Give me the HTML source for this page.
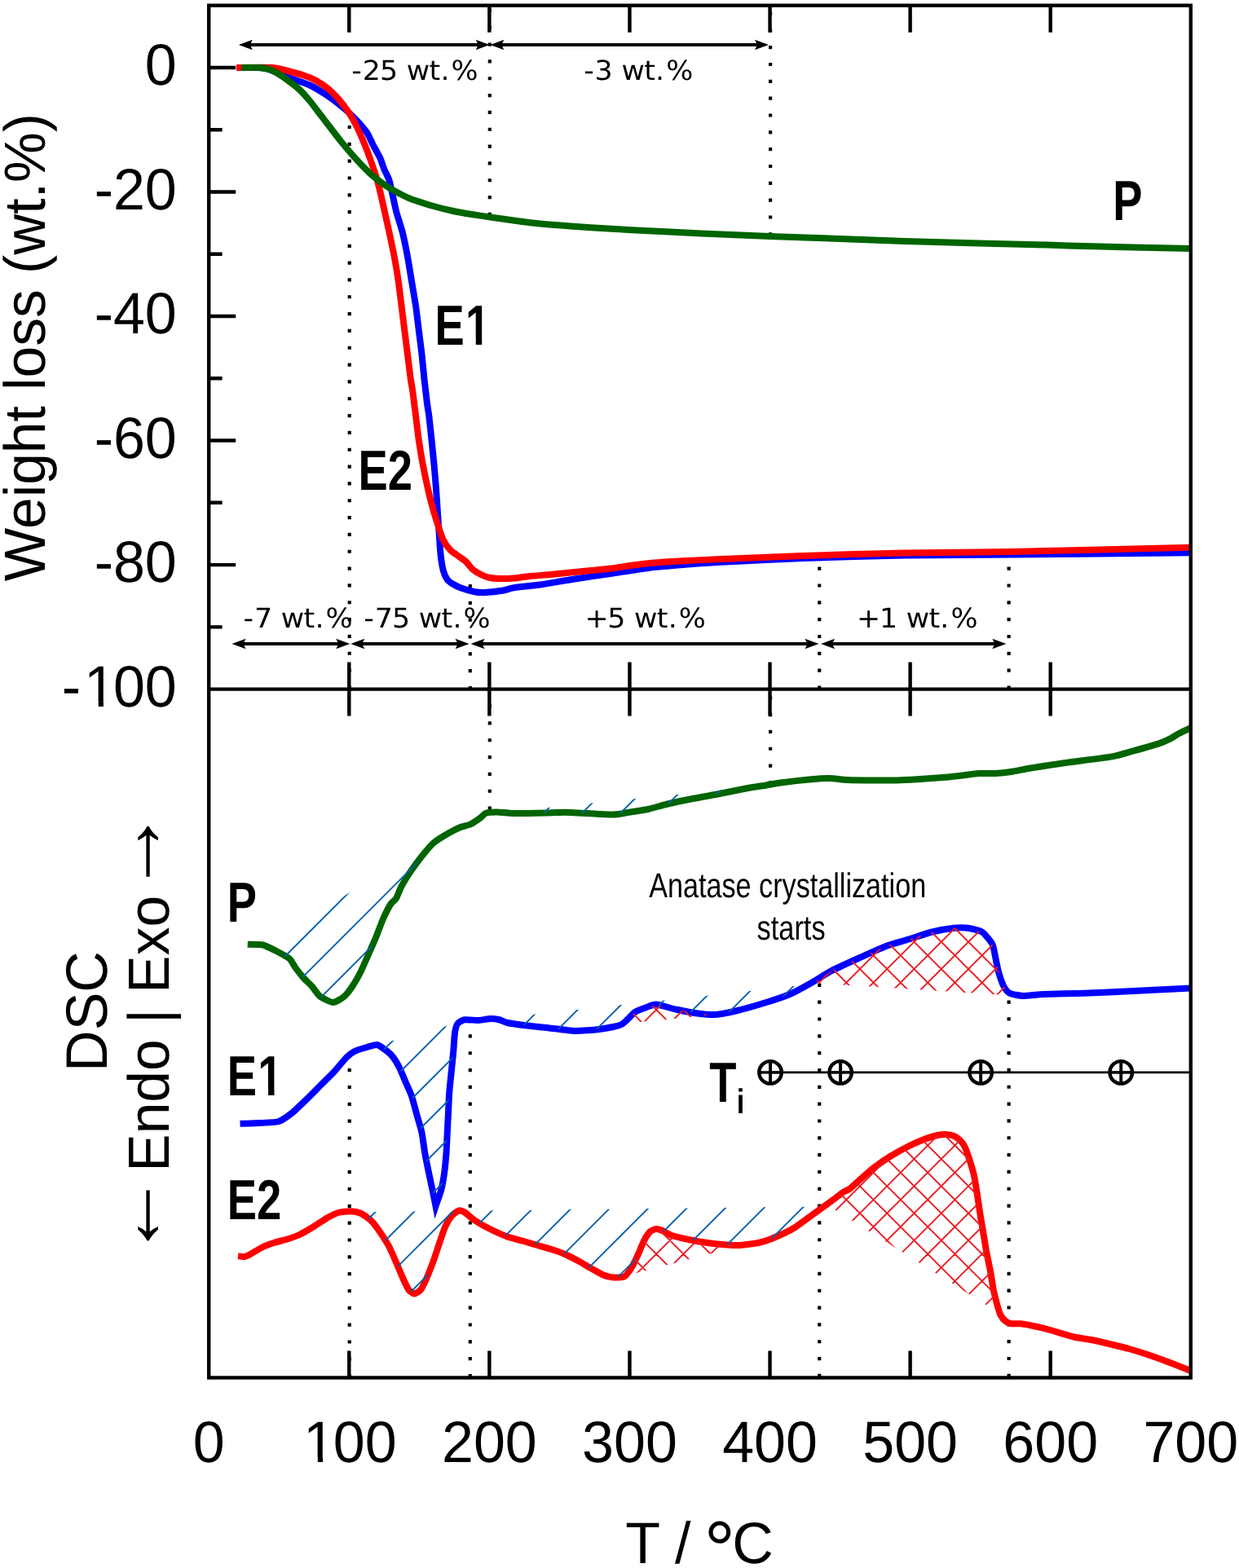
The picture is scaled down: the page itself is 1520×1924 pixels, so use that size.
<!DOCTYPE html>
<html lang="en"><head><meta charset="utf-8"><title>TGA / DSC curves</title>
<style>html,body{margin:0;padding:0;background:#fff}svg{display:block}text{font-family:"Liberation Sans",sans-serif;fill:#000;text-rendering:geometricPrecision}.dv{font-family:"DejaVu Sans","Liberation Sans",sans-serif}.b{font-weight:bold}</style></head><body>
<svg width="1520" height="1924" viewBox="0 0 1520 1924">
<rect width="1520" height="1924" fill="#fff"/>
<defs>
<clipPath id="c_p1"><path d="M320.00 1158.30L322.50 1159.50L337.50 1166.25L355.00 1176.25L362.50 1187.50L372.50 1200.00L382.50 1210.00L392.50 1222.50L408.75 1230.00L422.50 1222.50L432.50 1210.00L442.50 1192.50L452.50 1170.00L461.25 1150.00L470.00 1127.50L479.50 1109.00L486.00 1102.50L492.50 1087.50L505.00 1067.50L520.00 1047.50L532.50 1033.75L550.00 1022.50L565.00 1015.00L577.50 1011.25L590.00 1003.00L596.00 997.80L600.00 996.30 Z"/></clipPath>
<clipPath id="h_p1"><path d="M320.00 1158.30L600.00 996.30L600.00 1596.30L320.00 1758.30 Z"/></clipPath>
<clipPath id="c_p2"><path d="M612.00 996.90L630.00 998.00L670.00 997.50L692.50 996.75L710.00 997.50L752.50 999.50L770.00 997.00L795.00 993.00L820.00 986.25L852.50 979.50L877.50 975.00L915.00 967.50L940.00 963.50L944.00 963.20 Z"/></clipPath>
<clipPath id="h_p2"><path d="M612.00 996.90L944.00 963.20L944.00 1563.20L612.00 1596.90 Z"/></clipPath>
<clipPath id="c_e1a"><path d="M462.50 1282.00L475.00 1290.00L482.50 1297.50L490.00 1310.00L497.50 1327.50L505.00 1345.00L511.25 1367.50L517.50 1390.00L521.25 1415.00L526.25 1440.00L530.50 1460.00L534.50 1480.00L541.25 1460.00L545.00 1440.00L547.50 1415.00L548.75 1390.00L550.00 1365.00L551.25 1340.00L553.75 1315.00L556.25 1290.00L558.00 1267.50L561.25 1256.25L562.00 1255.00 Z"/></clipPath>
<clipPath id="h_e1a"><path d="M462.50 1282.00L562.00 1255.00L562.00 1855.00L462.50 1882.00 Z"/></clipPath>
<clipPath id="c_e1b"><path d="M600.00 1250.60L601.25 1250.00L612.50 1251.25L622.50 1255.00L642.50 1258.00L672.50 1261.25L705.00 1265.00L735.00 1263.00L762.50 1257.00L778.75 1242.00L792.50 1236.25L805.00 1232.50L830.00 1238.75L857.50 1243.75L877.50 1245.00L902.50 1240.50L940.00 1230.00L970.00 1219.50L985.00 1208.80 Z"/></clipPath>
<clipPath id="h_e1b"><path d="M600.00 1250.60L985.00 1208.80L985.00 1808.80L600.00 1850.60 Z"/></clipPath>
<clipPath id="c_e1r1"><path d="M765.00 1256.00L778.75 1242.00L792.50 1236.25L805.00 1232.50L830.00 1238.75L857.50 1243.75L877.50 1245.00L880.00 1245.00 Z"/></clipPath>
<clipPath id="h_e1r1"><path d="M765.00 1256.00L880.00 1245.00L880.00 645.00L765.00 656.00 Z"/></clipPath>
<clipPath id="c_e1r2"><path d="M998.00 1206.30L1020.00 1191.25L1055.00 1175.00L1087.50 1160.75L1115.00 1152.50L1142.50 1143.75L1170.00 1138.75L1187.50 1138.75L1205.00 1143.75L1217.50 1158.75L1221.25 1175.00L1225.00 1192.50L1231.25 1210.00L1238.75 1218.75L1255.00 1222.00L1258.00 1222.70 Z"/></clipPath>
<clipPath id="h_e1r2"><path d="M998.00 1206.30L1258.00 1222.70L1258.00 622.70L998.00 606.30 Z"/></clipPath>
<clipPath id="c_e2a"><path d="M430.00 1487.30L442.50 1488.75L455.00 1497.50L465.00 1510.00L477.50 1530.00L487.50 1552.50L495.00 1570.00L501.25 1582.50L508.00 1587.50L516.25 1582.50L523.75 1567.50L532.50 1545.00L540.00 1522.50L546.25 1505.00L553.75 1492.50L562.50 1485.50L570.00 1487.50L582.50 1497.50L600.00 1507.50L622.50 1517.50L642.50 1523.00L657.50 1527.50L675.00 1532.50L692.50 1538.75L710.00 1547.50L725.00 1556.25L740.00 1564.50L752.50 1567.50L766.25 1566.25L775.00 1555.00L782.50 1540.00L790.00 1522.50L797.50 1511.25L805.00 1508.00L812.50 1510.00L825.00 1516.25L850.00 1522.00L877.50 1526.25L907.50 1528.00L932.50 1524.50L952.50 1517.50L975.00 1506.25L997.50 1490.00L1010.00 1480.20 Z"/></clipPath>
<clipPath id="h_e2a"><path d="M430.00 1487.30L1010.00 1480.20L1010.00 2080.20L430.00 2087.30 Z"/></clipPath>
<clipPath id="c_e2r1"><path d="M768.00 1565.50L775.00 1555.00L782.50 1540.00L790.00 1522.50L797.50 1511.25L805.00 1508.00L812.50 1510.00L825.00 1516.25L850.00 1522.00L877.50 1526.25L907.50 1528.00L912.00 1528.00 Z"/></clipPath>
<clipPath id="h_e2r1"><path d="M768.00 1565.50L912.00 1528.00L912.00 928.00L768.00 965.50 Z"/></clipPath>
<clipPath id="c_e2r2"><path d="M1013.00 1477.50L1020.00 1473.75L1035.00 1462.50L1042.50 1458.75L1055.00 1447.50L1072.50 1432.50L1092.50 1418.75L1115.00 1406.25L1135.00 1397.50L1150.00 1393.00L1160.00 1392.00L1170.00 1393.75L1177.50 1398.75L1183.75 1407.50L1190.00 1425.00L1195.00 1442.50L1198.75 1465.00L1202.50 1490.00L1206.25 1512.50L1210.00 1535.00L1215.00 1560.00L1218.75 1582.50L1222.00 1609.00 Z"/></clipPath>
<clipPath id="h_e2r2"><path d="M1013.00 1477.50L1222.00 1609.00L1222.00 1009.00L1013.00 877.50 Z"/></clipPath>
</defs>
<path d="M428.70 153.90V846.00" stroke="#000" stroke-width="4.17" stroke-dasharray="4.17 16.66" fill="none"/>
<path d="M600.80 10.85V266.00" stroke="#000" stroke-width="4.17" stroke-dasharray="4.17 16.66" fill="none"/>
<path d="M945.10 14.45V290.00" stroke="#000" stroke-width="4.17" stroke-dasharray="4.17 16.66" fill="none"/>
<path d="M576.80 716.90V846.00" stroke="#000" stroke-width="4.17" stroke-dasharray="4.17 16.66" fill="none"/>
<path d="M1005.25 695.60V846.00" stroke="#000" stroke-width="4.17" stroke-dasharray="4.17 16.66" fill="none"/>
<path d="M1237.65 695.60V846.00" stroke="#000" stroke-width="4.17" stroke-dasharray="4.17 16.66" fill="none"/>
<path d="M600.80 843.70V996.00" stroke="#000" stroke-width="4.17" stroke-dasharray="4.17 16.66" fill="none"/>
<path d="M945.10 854.20V962.00" stroke="#000" stroke-width="4.17" stroke-dasharray="4.17 16.66" fill="none"/>
<path d="M428.70 1311.10V1690.00" stroke="#000" stroke-width="4.17" stroke-dasharray="4.17 16.66" fill="none"/>
<path d="M576.80 1269.30V1690.00" stroke="#000" stroke-width="4.17" stroke-dasharray="4.17 16.66" fill="none"/>
<path d="M1005.25 1206.75V1690.00" stroke="#000" stroke-width="4.17" stroke-dasharray="4.17 16.66" fill="none"/>
<path d="M1237.65 1227.50V1690.00" stroke="#000" stroke-width="4.17" stroke-dasharray="4.17 16.66" fill="none"/>
<path d="M944.54 1315.90H1460.80" stroke="#000" stroke-width="2.8" fill="none"/>
<clipPath id="plot"><rect x="256.20" y="6.70" width="1204.60" height="1683.80"/></clipPath>
<g clip-path="url(#plot)">
<path d="M290.00 83.00C292.80 83.00 313.90 82.75 318.00 83.00C322.10 83.25 327.30 84.25 331.00 85.50C334.70 86.75 350.10 93.60 355.00 95.50C359.90 97.40 375.50 102.42 380.00 104.50C384.50 106.58 396.00 113.58 400.00 116.25C404.00 118.92 416.50 128.38 420.00 131.25C423.50 134.12 432.00 141.88 435.00 145.00C438.00 148.12 447.75 159.25 450.00 162.50C452.25 165.75 455.88 174.38 457.50 177.50C459.12 180.62 464.88 190.75 466.25 193.75C467.62 196.75 470.12 204.75 471.25 207.50C472.38 210.25 476.50 218.25 477.50 221.25C478.50 224.25 480.38 233.62 481.25 237.50C482.12 241.38 485.00 255.25 486.25 260.00C487.50 264.75 492.38 279.50 493.75 285.00C495.12 290.50 498.88 309.00 500.00 315.00C501.12 321.00 504.00 339.00 505.00 345.00C506.00 351.00 509.12 369.00 510.00 375.00C510.88 381.00 513.00 399.00 513.75 405.00C514.50 411.00 516.83 429.00 517.50 435.00C518.17 441.00 519.85 459.00 520.50 465.00C521.15 471.00 523.42 490.50 524.00 495.00C524.58 499.50 525.70 505.50 526.25 510.00C526.80 514.50 528.88 534.00 529.50 540.00C530.12 546.00 531.95 564.00 532.50 570.00C533.05 576.00 534.55 594.00 535.00 600.00C535.45 606.00 536.62 624.50 537.00 630.00C537.38 635.50 538.40 650.00 538.75 655.00C539.10 660.00 540.00 675.50 540.50 680.00C541.00 684.50 542.92 696.88 543.75 700.00C544.58 703.12 547.62 709.62 548.75 711.25C549.88 712.88 553.38 715.25 555.00 716.25C556.62 717.25 562.25 720.25 565.00 721.25C567.75 722.25 579.50 725.67 582.50 726.25C585.50 726.83 591.50 727.17 595.00 727.00C598.50 726.83 614.00 725.08 617.50 724.50C621.00 723.92 625.50 721.95 630.00 721.25C634.50 720.55 655.50 718.50 662.50 717.50C669.50 716.50 691.25 712.62 700.00 711.25C708.75 709.88 740.00 705.25 750.00 703.75C760.00 702.25 791.25 697.33 800.00 696.25C808.75 695.17 829.50 693.62 837.50 693.00C845.50 692.38 865.25 690.80 880.00 690.00C894.75 689.20 962.00 685.85 985.00 685.00C1008.00 684.15 1084.50 681.95 1110.00 681.50C1135.50 681.05 1204.80 680.82 1240.00 680.50C1275.20 680.18 1439.80 678.52 1462.00 678.30" fill="none" stroke="#0000ff" stroke-width="8.0" stroke-linejoin="miter" stroke-miterlimit="10" />
<path d="M290.00 83.00C294.50 83.00 328.50 82.55 335.00 83.00C341.50 83.45 351.25 86.55 355.00 87.50C358.75 88.45 369.25 91.38 372.50 92.50C375.75 93.62 384.50 97.12 387.50 98.75C390.50 100.38 399.75 106.50 402.50 108.75C405.25 111.00 412.50 118.38 415.00 121.25C417.50 124.12 425.25 134.12 427.50 137.50C429.75 140.88 435.50 151.00 437.50 155.00C439.50 159.00 445.75 173.25 447.50 177.50C449.25 181.75 453.50 193.25 455.00 197.50C456.50 201.75 461.25 215.75 462.50 220.00C463.75 224.25 466.50 235.75 467.50 240.00C468.50 244.25 471.50 258.00 472.50 262.50C473.50 267.00 476.38 279.75 477.50 285.00C478.62 290.25 482.62 309.00 483.75 315.00C484.88 321.00 487.88 339.00 488.75 345.00C489.62 351.00 491.75 369.00 492.50 375.00C493.25 381.00 495.50 399.00 496.25 405.00C497.00 411.00 499.25 429.00 500.00 435.00C500.75 441.00 503.12 460.50 503.75 465.00C504.38 469.50 505.62 475.50 506.25 480.00C506.88 484.50 509.25 504.00 510.00 510.00C510.75 516.00 512.88 534.00 513.75 540.00C514.62 546.00 517.62 564.00 518.75 570.00C519.88 576.00 523.75 594.50 525.00 600.00C526.25 605.50 530.00 620.50 531.25 625.00C532.50 629.50 536.25 641.25 537.50 645.00C538.75 648.75 542.25 659.50 543.75 662.50C545.25 665.50 550.62 673.00 552.50 675.00C554.38 677.00 560.62 681.12 562.50 682.50C564.38 683.88 569.50 687.12 571.25 688.75C573.00 690.38 578.12 697.12 580.00 698.75C581.88 700.38 588.00 704.00 590.00 705.00C592.00 706.00 597.75 708.25 600.00 708.75C602.25 709.25 609.50 709.92 612.50 710.00C615.50 710.08 626.25 709.80 630.00 709.50C633.75 709.20 645.50 707.45 650.00 707.00C654.50 706.55 670.00 705.45 675.00 705.00C680.00 704.55 695.00 703.00 700.00 702.50C705.00 702.00 720.00 700.50 725.00 700.00C730.00 699.50 745.00 698.12 750.00 697.50C755.00 696.88 770.00 694.42 775.00 693.75C780.00 693.08 793.75 691.30 800.00 690.75C806.25 690.20 829.50 688.70 837.50 688.25C845.50 687.80 865.25 686.88 880.00 686.25C894.75 685.62 962.00 682.77 985.00 682.00C1008.00 681.23 1084.50 679.00 1110.00 678.50C1135.50 678.00 1204.80 677.68 1240.00 677.00C1275.20 676.32 1439.80 672.23 1462.00 671.70" fill="none" stroke="#ff0000" stroke-width="8.0" stroke-linejoin="miter" stroke-miterlimit="10" />
<path d="M296.25 83.00C298.38 83.00 314.12 82.80 317.50 83.00C320.88 83.20 327.50 84.17 330.00 85.00C332.50 85.83 340.00 89.75 342.50 91.25C345.00 92.75 352.50 98.12 355.00 100.00C357.50 101.88 365.00 107.62 367.50 110.00C370.00 112.38 377.50 120.75 380.00 123.75C382.50 126.75 390.00 136.75 392.50 140.00C395.00 143.25 402.50 153.00 405.00 156.25C407.50 159.50 415.00 169.38 417.50 172.50C420.00 175.62 427.50 184.62 430.00 187.50C432.50 190.38 440.00 198.62 442.50 201.25C445.00 203.88 452.50 211.50 455.00 213.75C457.50 216.00 465.00 221.93 467.50 223.75C470.00 225.57 477.50 230.50 480.00 232.00C482.50 233.50 490.00 237.50 492.50 238.75C495.00 240.00 501.25 243.12 505.00 244.50C508.75 245.88 525.00 251.07 530.00 252.50C535.00 253.93 550.00 257.68 555.00 258.75C560.00 259.82 575.00 262.43 580.00 263.25C585.00 264.07 600.00 266.27 605.00 267.00C610.00 267.73 624.50 269.77 630.00 270.50C635.50 271.23 653.00 273.55 660.00 274.25C667.00 274.95 691.00 276.85 700.00 277.50C709.00 278.15 742.00 280.25 750.00 280.75C758.00 281.25 769.00 281.93 780.00 282.50C791.00 283.07 843.50 285.75 860.00 286.50C876.50 287.25 928.00 289.35 945.00 290.00C962.00 290.65 1013.50 292.40 1030.00 293.00C1046.50 293.60 1093.00 295.45 1110.00 296.00C1127.00 296.55 1182.50 298.05 1200.00 298.50C1217.50 298.95 1273.00 300.17 1285.00 300.50C1297.00 300.83 1302.30 301.34 1320.00 301.80C1337.70 302.26 1447.80 304.77 1462.00 305.10" fill="none" stroke="#006400" stroke-width="8.0" stroke-linejoin="miter" stroke-miterlimit="10" />
<path d="M303.75 1158.75C305.62 1158.83 319.12 1158.75 322.50 1159.50C325.88 1160.25 334.25 1164.58 337.50 1166.25C340.75 1167.92 352.50 1174.12 355.00 1176.25C357.50 1178.38 360.75 1185.12 362.50 1187.50C364.25 1189.88 370.50 1197.75 372.50 1200.00C374.50 1202.25 380.50 1207.75 382.50 1210.00C384.50 1212.25 389.88 1220.50 392.50 1222.50C395.12 1224.50 405.75 1230.00 408.75 1230.00C411.75 1230.00 420.12 1224.50 422.50 1222.50C424.88 1220.50 430.50 1213.00 432.50 1210.00C434.50 1207.00 440.50 1196.50 442.50 1192.50C444.50 1188.50 450.62 1174.25 452.50 1170.00C454.38 1165.75 459.50 1154.25 461.25 1150.00C463.00 1145.75 468.18 1131.60 470.00 1127.50C471.82 1123.40 477.90 1111.50 479.50 1109.00C481.10 1106.50 484.70 1104.65 486.00 1102.50C487.30 1100.35 490.60 1091.00 492.50 1087.50C494.40 1084.00 502.25 1071.50 505.00 1067.50C507.75 1063.50 517.25 1050.88 520.00 1047.50C522.75 1044.12 529.50 1036.25 532.50 1033.75C535.50 1031.25 546.75 1024.38 550.00 1022.50C553.25 1020.62 562.25 1016.12 565.00 1015.00C567.75 1013.88 575.00 1012.45 577.50 1011.25C580.00 1010.05 588.15 1004.35 590.00 1003.00C591.85 1001.65 594.00 998.45 596.00 997.80C598.00 997.15 606.60 996.48 610.00 996.50C613.40 996.52 624.00 997.90 630.00 998.00C636.00 998.10 663.75 997.62 670.00 997.50C676.25 997.38 688.50 996.75 692.50 996.75C696.50 996.75 704.00 997.23 710.00 997.50C716.00 997.77 746.50 999.55 752.50 999.50C758.50 999.45 765.75 997.65 770.00 997.00C774.25 996.35 790.00 994.08 795.00 993.00C800.00 991.92 814.25 987.60 820.00 986.25C825.75 984.90 846.75 980.62 852.50 979.50C858.25 978.38 871.25 976.20 877.50 975.00C883.75 973.80 908.75 968.65 915.00 967.50C921.25 966.35 935.75 964.20 940.00 963.50C944.25 962.80 952.00 961.23 957.50 960.50C963.00 959.77 989.00 956.80 995.00 956.25C1001.00 955.70 1013.00 954.92 1017.50 955.00C1022.00 955.08 1034.25 956.75 1040.00 957.00C1045.75 957.25 1069.00 957.45 1075.00 957.50C1081.00 957.55 1095.00 957.62 1100.00 957.50C1105.00 957.38 1119.00 956.62 1125.00 956.25C1131.00 955.88 1154.25 954.25 1160.00 953.75C1165.75 953.25 1178.50 951.73 1182.50 951.25C1186.50 950.77 1196.15 949.23 1200.00 949.00C1203.85 948.77 1216.80 949.23 1221.00 949.00C1225.20 948.77 1237.80 947.38 1242.00 946.75C1246.20 946.12 1256.67 943.80 1263.00 942.75C1269.33 941.70 1295.13 937.63 1305.25 936.20C1315.37 934.77 1355.78 929.85 1364.20 928.40C1372.62 926.95 1383.82 923.28 1389.50 921.70C1395.18 920.12 1416.37 914.14 1421.00 912.60C1425.63 911.06 1433.27 907.56 1435.80 906.30C1438.33 905.04 1443.68 901.38 1446.30 900.00C1448.92 898.62 1460.43 893.25 1462.00 892.50" fill="none" stroke="#006400" stroke-width="8.0" stroke-linejoin="miter" stroke-miterlimit="10" />
<path d="M294.50 1378.75C296.30 1378.70 307.82 1378.50 312.50 1378.25C317.18 1378.00 336.75 1377.45 341.25 1376.25C345.75 1375.05 354.12 1368.88 357.50 1366.25C360.88 1363.62 371.50 1353.38 375.00 1350.00C378.50 1346.62 389.00 1336.00 392.50 1332.50C396.00 1329.00 406.75 1318.50 410.00 1315.00C413.25 1311.50 422.50 1300.00 425.00 1297.50C427.50 1295.00 432.50 1291.25 435.00 1290.00C437.50 1288.75 447.25 1285.80 450.00 1285.00C452.75 1284.20 460.00 1281.50 462.50 1282.00C465.00 1282.50 473.00 1288.45 475.00 1290.00C477.00 1291.55 481.00 1295.50 482.50 1297.50C484.00 1299.50 488.50 1307.00 490.00 1310.00C491.50 1313.00 496.00 1324.00 497.50 1327.50C499.00 1331.00 503.62 1341.00 505.00 1345.00C506.38 1349.00 510.00 1363.00 511.25 1367.50C512.50 1372.00 516.50 1385.25 517.50 1390.00C518.50 1394.75 520.38 1410.00 521.25 1415.00C522.12 1420.00 525.33 1435.50 526.25 1440.00C527.17 1444.50 529.67 1456.00 530.50 1460.00C531.33 1464.00 534.10 1478.00 534.50 1480.00C535.17 1478.00 540.20 1464.00 541.25 1460.00C542.30 1456.00 544.38 1444.50 545.00 1440.00C545.62 1435.50 547.12 1420.00 547.50 1415.00C547.88 1410.00 548.50 1395.00 548.75 1390.00C549.00 1385.00 549.75 1370.00 550.00 1365.00C550.25 1360.00 550.88 1345.00 551.25 1340.00C551.62 1335.00 553.25 1320.00 553.75 1315.00C554.25 1310.00 555.83 1294.75 556.25 1290.00C556.67 1285.25 557.50 1270.88 558.00 1267.50C558.50 1264.12 560.05 1257.88 561.25 1256.25C562.45 1254.62 567.38 1251.67 570.00 1251.25C572.62 1250.83 584.38 1252.12 587.50 1252.00C590.62 1251.88 598.75 1250.08 601.25 1250.00C603.75 1249.92 610.38 1250.75 612.50 1251.25C614.62 1251.75 619.50 1254.33 622.50 1255.00C625.50 1255.67 637.50 1257.38 642.50 1258.00C647.50 1258.62 666.25 1260.55 672.50 1261.25C678.75 1261.95 698.75 1264.83 705.00 1265.00C711.25 1265.17 729.25 1263.80 735.00 1263.00C740.75 1262.20 758.12 1259.10 762.50 1257.00C766.88 1254.90 775.75 1244.08 778.75 1242.00C781.75 1239.92 789.88 1237.20 792.50 1236.25C795.12 1235.30 801.25 1232.25 805.00 1232.50C808.75 1232.75 824.75 1237.62 830.00 1238.75C835.25 1239.88 852.75 1243.12 857.50 1243.75C862.25 1244.38 873.00 1245.33 877.50 1245.00C882.00 1244.67 896.25 1242.00 902.50 1240.50C908.75 1239.00 933.25 1232.10 940.00 1230.00C946.75 1227.90 964.50 1221.88 970.00 1219.50C975.50 1217.12 990.00 1209.08 995.00 1206.25C1000.00 1203.42 1014.00 1194.38 1020.00 1191.25C1026.00 1188.12 1048.25 1178.05 1055.00 1175.00C1061.75 1171.95 1081.50 1163.00 1087.50 1160.75C1093.50 1158.50 1109.50 1154.20 1115.00 1152.50C1120.50 1150.80 1137.00 1145.12 1142.50 1143.75C1148.00 1142.38 1165.50 1139.25 1170.00 1138.75C1174.50 1138.25 1184.00 1138.25 1187.50 1138.75C1191.00 1139.25 1202.00 1141.75 1205.00 1143.75C1208.00 1145.75 1215.88 1155.62 1217.50 1158.75C1219.12 1161.88 1220.50 1171.62 1221.25 1175.00C1222.00 1178.38 1224.00 1189.00 1225.00 1192.50C1226.00 1196.00 1229.88 1207.38 1231.25 1210.00C1232.62 1212.62 1236.38 1217.55 1238.75 1218.75C1241.12 1219.95 1250.88 1221.88 1255.00 1222.00C1259.12 1222.12 1272.50 1220.33 1280.00 1220.00C1287.50 1219.67 1322.00 1219.00 1330.00 1218.75C1338.00 1218.50 1346.80 1218.12 1360.00 1217.50C1373.20 1216.88 1451.80 1213.00 1462.00 1212.50" fill="none" stroke="#0000ff" stroke-width="8.0" stroke-linejoin="miter" stroke-miterlimit="10" />
<path d="M292.00 1541.25C292.80 1541.33 298.45 1542.25 300.00 1542.00C301.55 1541.75 305.25 1539.95 307.50 1538.75C309.75 1537.55 319.50 1531.42 322.50 1530.00C325.50 1528.58 334.50 1525.45 337.50 1524.50C340.50 1523.55 349.50 1521.45 352.50 1520.50C355.50 1519.55 364.25 1516.55 367.50 1515.00C370.75 1513.45 381.50 1507.12 385.00 1505.00C388.50 1502.88 399.50 1495.45 402.50 1493.75C405.50 1492.05 412.25 1488.75 415.00 1488.00C417.75 1487.25 427.25 1486.17 430.00 1486.25C432.75 1486.33 440.00 1487.62 442.50 1488.75C445.00 1489.88 452.75 1495.38 455.00 1497.50C457.25 1499.62 462.75 1506.75 465.00 1510.00C467.25 1513.25 475.25 1525.75 477.50 1530.00C479.75 1534.25 485.75 1548.50 487.50 1552.50C489.25 1556.50 493.62 1567.00 495.00 1570.00C496.38 1573.00 499.95 1580.75 501.25 1582.50C502.55 1584.25 506.50 1587.50 508.00 1587.50C509.50 1587.50 514.67 1584.50 516.25 1582.50C517.83 1580.50 522.12 1571.25 523.75 1567.50C525.38 1563.75 530.88 1549.50 532.50 1545.00C534.12 1540.50 538.62 1526.50 540.00 1522.50C541.38 1518.50 544.88 1508.00 546.25 1505.00C547.62 1502.00 552.12 1494.45 553.75 1492.50C555.38 1490.55 560.88 1486.00 562.50 1485.50C564.12 1485.00 568.00 1486.30 570.00 1487.50C572.00 1488.70 579.50 1495.50 582.50 1497.50C585.50 1499.50 596.00 1505.50 600.00 1507.50C604.00 1509.50 618.25 1515.95 622.50 1517.50C626.75 1519.05 639.00 1522.00 642.50 1523.00C646.00 1524.00 654.25 1526.55 657.50 1527.50C660.75 1528.45 671.50 1531.38 675.00 1532.50C678.50 1533.62 689.00 1537.25 692.50 1538.75C696.00 1540.25 706.75 1545.75 710.00 1547.50C713.25 1549.25 722.00 1554.55 725.00 1556.25C728.00 1557.95 737.25 1563.38 740.00 1564.50C742.75 1565.62 749.88 1567.33 752.50 1567.50C755.12 1567.67 764.00 1567.50 766.25 1566.25C768.50 1565.00 773.38 1557.62 775.00 1555.00C776.62 1552.38 781.00 1543.25 782.50 1540.00C784.00 1536.75 788.50 1525.38 790.00 1522.50C791.50 1519.62 796.00 1512.70 797.50 1511.25C799.00 1509.80 803.50 1508.12 805.00 1508.00C806.50 1507.88 810.50 1509.17 812.50 1510.00C814.50 1510.83 821.25 1515.05 825.00 1516.25C828.75 1517.45 844.75 1521.00 850.00 1522.00C855.25 1523.00 871.75 1525.65 877.50 1526.25C883.25 1526.85 902.00 1528.17 907.50 1528.00C913.00 1527.83 928.00 1525.55 932.50 1524.50C937.00 1523.45 948.25 1519.33 952.50 1517.50C956.75 1515.67 970.50 1509.00 975.00 1506.25C979.50 1503.50 993.00 1493.25 997.50 1490.00C1002.00 1486.75 1016.25 1476.50 1020.00 1473.75C1023.75 1471.00 1032.75 1464.00 1035.00 1462.50C1037.25 1461.00 1040.50 1460.25 1042.50 1458.75C1044.50 1457.25 1052.00 1450.12 1055.00 1447.50C1058.00 1444.88 1068.75 1435.38 1072.50 1432.50C1076.25 1429.62 1088.25 1421.38 1092.50 1418.75C1096.75 1416.12 1110.75 1408.38 1115.00 1406.25C1119.25 1404.12 1131.50 1398.83 1135.00 1397.50C1138.50 1396.17 1147.50 1393.55 1150.00 1393.00C1152.50 1392.45 1158.00 1391.92 1160.00 1392.00C1162.00 1392.08 1168.25 1393.08 1170.00 1393.75C1171.75 1394.42 1176.12 1397.38 1177.50 1398.75C1178.88 1400.12 1182.50 1404.88 1183.75 1407.50C1185.00 1410.12 1188.88 1421.50 1190.00 1425.00C1191.12 1428.50 1194.12 1438.50 1195.00 1442.50C1195.88 1446.50 1198.00 1460.25 1198.75 1465.00C1199.50 1469.75 1201.75 1485.25 1202.50 1490.00C1203.25 1494.75 1205.50 1508.00 1206.25 1512.50C1207.00 1517.00 1209.12 1530.25 1210.00 1535.00C1210.88 1539.75 1214.12 1555.25 1215.00 1560.00C1215.88 1564.75 1217.88 1578.25 1218.75 1582.50C1219.62 1586.75 1222.88 1599.38 1223.75 1602.50C1224.62 1605.62 1226.50 1611.88 1227.50 1613.75C1228.50 1615.62 1232.38 1620.20 1233.75 1621.25C1235.12 1622.30 1239.38 1623.95 1241.25 1624.25C1243.12 1624.55 1249.62 1623.92 1252.50 1624.25C1255.38 1624.58 1266.25 1626.67 1270.00 1627.50C1273.75 1628.33 1285.25 1631.20 1290.00 1632.50C1294.75 1633.80 1312.50 1639.33 1317.50 1640.50C1322.50 1641.67 1335.25 1643.30 1340.00 1644.25C1344.75 1645.20 1360.50 1648.92 1365.00 1650.00C1369.50 1651.08 1380.75 1653.80 1385.00 1655.00C1389.25 1656.20 1403.00 1660.50 1407.50 1662.00C1412.00 1663.50 1424.55 1667.95 1430.00 1670.00C1435.45 1672.05 1458.80 1681.25 1462.00 1682.50" fill="none" stroke="#ff0000" stroke-width="8.0" stroke-linejoin="miter" stroke-miterlimit="10" />
</g>
<g clip-path="url(#h_p1)"><g clip-path="url(#c_p1)"><path d="M315.00 925.08L605.00 635.08M315.00 972.25L605.00 682.25M315.00 1019.42L605.00 729.42M315.00 1066.59L605.00 776.59M315.00 1113.76L605.00 823.76M315.00 1160.93L605.00 870.93M315.00 1208.10L605.00 918.10M315.00 1255.27L605.00 965.27M315.00 1302.44L605.00 1012.44M315.00 1349.61L605.00 1059.61M315.00 1396.78L605.00 1106.78M315.00 1443.95L605.00 1153.95M315.00 1491.12L605.00 1201.12M315.00 1538.29L605.00 1248.29M315.00 1585.46L605.00 1295.46" fill="none" stroke="#0060ad" stroke-width="1.90"/></g></g>
<g clip-path="url(#h_p2)"><g clip-path="url(#c_p2)"><path d="M607.00 868.93L949.00 526.93M607.00 916.10L949.00 574.10M607.00 963.27L949.00 621.27M607.00 1010.44L949.00 668.44M607.00 1057.61L949.00 715.61M607.00 1104.78L949.00 762.78M607.00 1151.95L949.00 809.95M607.00 1199.12L949.00 857.12M607.00 1246.29L949.00 904.29M607.00 1293.46L949.00 951.46M607.00 1340.63L949.00 998.63M607.00 1387.80L949.00 1045.80M607.00 1434.97L949.00 1092.97" fill="none" stroke="#0060ad" stroke-width="1.90"/></g></g>
<g clip-path="url(#h_e1a)"><g clip-path="url(#c_e1a)"><path d="M457.50 1159.94L567.00 1050.44M457.50 1207.11L567.00 1097.61M457.50 1254.28L567.00 1144.78M457.50 1301.45L567.00 1191.95M457.50 1348.62L567.00 1239.12M457.50 1395.79L567.00 1286.29M457.50 1442.96L567.00 1333.46M457.50 1490.13L567.00 1380.63M457.50 1537.30L567.00 1427.80M457.50 1584.47L567.00 1474.97M457.50 1631.64L567.00 1522.14M457.50 1678.81L567.00 1569.31" fill="none" stroke="#0060ad" stroke-width="1.90"/></g></g>
<g clip-path="url(#h_e1b)"><g clip-path="url(#c_e1b)"><path d="M595.00 1116.78L990.00 721.78M595.00 1163.95L990.00 768.95M595.00 1211.12L990.00 816.12M595.00 1258.29L990.00 863.29M595.00 1305.46L990.00 910.46M595.00 1352.63L990.00 957.63M595.00 1399.80L990.00 1004.80M595.00 1446.97L990.00 1051.97M595.00 1494.14L990.00 1099.14M595.00 1541.31L990.00 1146.31M595.00 1588.48L990.00 1193.48M595.00 1635.65L990.00 1240.65M595.00 1682.82L990.00 1287.82M595.00 1729.99L990.00 1334.99" fill="none" stroke="#0060ad" stroke-width="1.90"/></g></g>
<g clip-path="url(#h_e1r1)"><g clip-path="url(#c_e1r1)"><path d="M760.00 1184.20L885.00 1059.20M760.00 1217.50L885.00 1092.50M760.00 1250.80L885.00 1125.80M760.00 1284.10L885.00 1159.10M760.00 1317.40L885.00 1192.40M760.00 1350.70L885.00 1225.70M760.00 1384.00L885.00 1259.00M760.00 1417.30L885.00 1292.30M760.00 1450.60L885.00 1325.60M760.00 1327.05L885.00 1452.05M760.00 1293.75L885.00 1418.75M760.00 1260.45L885.00 1385.45M760.00 1227.15L885.00 1352.15M760.00 1193.85L885.00 1318.85M760.00 1160.55L885.00 1285.55M760.00 1127.25L885.00 1252.25M760.00 1093.95L885.00 1218.95M760.00 1060.65L885.00 1185.65" fill="none" stroke="#ed1c24" stroke-width="1.90"/></g></g>
<g clip-path="url(#h_e1r2)"><g clip-path="url(#c_e1r2)"><path d="M993.00 1084.40L1263.00 814.40M993.00 1117.70L1263.00 847.70M993.00 1151.00L1263.00 881.00M993.00 1184.30L1263.00 914.30M993.00 1217.60L1263.00 947.60M993.00 1250.90L1263.00 980.90M993.00 1284.20L1263.00 1014.20M993.00 1317.50L1263.00 1047.50M993.00 1350.80L1263.00 1080.80M993.00 1384.10L1263.00 1114.10M993.00 1417.40L1263.00 1147.40M993.00 1450.70L1263.00 1180.70M993.00 1484.00L1263.00 1214.00M993.00 1517.30L1263.00 1247.30M993.00 1550.60L1263.00 1280.60M993.00 1293.65L1263.00 1563.65M993.00 1260.35L1263.00 1530.35M993.00 1227.05L1263.00 1497.05M993.00 1193.75L1263.00 1463.75M993.00 1160.45L1263.00 1430.45M993.00 1127.15L1263.00 1397.15M993.00 1093.85L1263.00 1363.85M993.00 1060.55L1263.00 1330.55M993.00 1027.25L1263.00 1297.25M993.00 993.95L1263.00 1263.95M993.00 960.65L1263.00 1230.65M993.00 927.35L1263.00 1197.35M993.00 894.05L1263.00 1164.05M993.00 860.75L1263.00 1130.75M993.00 827.45L1263.00 1097.45" fill="none" stroke="#ed1c24" stroke-width="1.90"/></g></g>
<g clip-path="url(#h_e2a)"><g clip-path="url(#c_e2a)"><path d="M425.00 1381.12L1015.00 791.12M425.00 1428.29L1015.00 838.29M425.00 1475.46L1015.00 885.46M425.00 1522.63L1015.00 932.63M425.00 1569.80L1015.00 979.80M425.00 1616.97L1015.00 1026.97M425.00 1664.14L1015.00 1074.14M425.00 1711.31L1015.00 1121.31M425.00 1758.48L1015.00 1168.48M425.00 1805.65L1015.00 1215.65M425.00 1852.82L1015.00 1262.82M425.00 1899.99L1015.00 1309.99M425.00 1947.16L1015.00 1357.16M425.00 1994.33L1015.00 1404.33M425.00 2041.50L1015.00 1451.50M425.00 2088.67L1015.00 1498.67M425.00 2135.84L1015.00 1545.84M425.00 2183.01L1015.00 1593.01M425.00 2230.18L1015.00 1640.18" fill="none" stroke="#0060ad" stroke-width="1.90"/></g></g>
<g clip-path="url(#h_e2r1)"><g clip-path="url(#c_e2r1)"><path d="M763.00 1447.60L917.00 1293.60M763.00 1480.90L917.00 1326.90M763.00 1514.20L917.00 1360.20M763.00 1547.50L917.00 1393.50M763.00 1580.80L917.00 1426.80M763.00 1614.10L917.00 1460.10M763.00 1647.40L917.00 1493.40M763.00 1680.70L917.00 1526.70M763.00 1714.00L917.00 1560.00M763.00 1747.30L917.00 1593.30M763.00 1780.60L917.00 1626.60M763.00 1629.75L917.00 1783.75M763.00 1596.45L917.00 1750.45M763.00 1563.15L917.00 1717.15M763.00 1529.85L917.00 1683.85M763.00 1496.55L917.00 1650.55M763.00 1463.25L917.00 1617.25M763.00 1429.95L917.00 1583.95M763.00 1396.65L917.00 1550.65M763.00 1363.35L917.00 1517.35M763.00 1330.05L917.00 1484.05M763.00 1296.75L917.00 1450.75" fill="none" stroke="#ed1c24" stroke-width="1.90"/></g></g>
<g clip-path="url(#h_e2r2)"><g clip-path="url(#c_e2r2)"><path d="M1008.00 1335.80L1227.00 1116.80M1008.00 1369.10L1227.00 1150.10M1008.00 1402.40L1227.00 1183.40M1008.00 1435.70L1227.00 1216.70M1008.00 1469.00L1227.00 1250.00M1008.00 1502.30L1227.00 1283.30M1008.00 1535.60L1227.00 1316.60M1008.00 1568.90L1227.00 1349.90M1008.00 1602.20L1227.00 1383.20M1008.00 1635.50L1227.00 1416.50M1008.00 1668.80L1227.00 1449.80M1008.00 1702.10L1227.00 1483.10M1008.00 1735.40L1227.00 1516.40M1008.00 1768.70L1227.00 1549.70M1008.00 1802.00L1227.00 1583.00M1008.00 1835.30L1227.00 1616.30M1008.00 1868.60L1227.00 1649.60M1008.00 1674.95L1227.00 1893.95M1008.00 1641.65L1227.00 1860.65M1008.00 1608.35L1227.00 1827.35M1008.00 1575.05L1227.00 1794.05M1008.00 1541.75L1227.00 1760.75M1008.00 1508.45L1227.00 1727.45M1008.00 1475.15L1227.00 1694.15M1008.00 1441.85L1227.00 1660.85M1008.00 1408.55L1227.00 1627.55M1008.00 1375.25L1227.00 1594.25M1008.00 1341.95L1227.00 1560.95M1008.00 1308.65L1227.00 1527.65M1008.00 1275.35L1227.00 1494.35M1008.00 1242.05L1227.00 1461.05M1008.00 1208.75L1227.00 1427.75M1008.00 1175.45L1227.00 1394.45M1008.00 1142.15L1227.00 1361.15M1008.00 1108.85L1227.00 1327.85" fill="none" stroke="#ed1c24" stroke-width="1.90"/></g></g>
<circle cx="945.04" cy="1315.90" r="13.75" fill="none" stroke="#000" stroke-width="4.4"/>
<path d="M945.04 1302.10V1329.70" stroke="#000" stroke-width="3.9" fill="none"/>
<path d="M931.24 1315.90H958.84" stroke="#000" stroke-width="3.3" fill="none"/>
<circle cx="1031.09" cy="1315.90" r="13.75" fill="none" stroke="#000" stroke-width="4.4"/>
<path d="M1031.09 1302.10V1329.70" stroke="#000" stroke-width="3.9" fill="none"/>
<path d="M1017.29 1315.90H1044.89" stroke="#000" stroke-width="3.3" fill="none"/>
<circle cx="1203.17" cy="1315.90" r="13.75" fill="none" stroke="#000" stroke-width="4.4"/>
<path d="M1203.17 1302.10V1329.70" stroke="#000" stroke-width="3.9" fill="none"/>
<path d="M1189.37 1315.90H1216.97" stroke="#000" stroke-width="3.3" fill="none"/>
<circle cx="1375.26" cy="1315.90" r="13.75" fill="none" stroke="#000" stroke-width="4.4"/>
<path d="M1375.26 1302.10V1329.70" stroke="#000" stroke-width="3.9" fill="none"/>
<path d="M1361.46 1315.90H1389.06" stroke="#000" stroke-width="3.3" fill="none"/>
<g stroke="#000" stroke-width="4.40" fill="none" stroke-linecap="butt">
<rect x="256.20" y="6.70" width="1204.60" height="1683.80" stroke-linejoin="miter"/>
<path d="M256.20 845.60H1460.80"/>
<path d="M428.29 6.70V39.70M428.29 812.60V878.60M428.29 1690.50V1657.50M600.37 6.70V39.70M600.37 812.60V878.60M600.37 1690.50V1657.50M772.46 6.70V39.70M772.46 812.60V878.60M772.46 1690.50V1657.50M944.54 6.70V39.70M944.54 812.60V878.60M944.54 1690.50V1657.50M1116.63 6.70V39.70M1116.63 812.60V878.60M1116.63 1690.50V1657.50M1288.71 6.70V39.70M1288.71 812.60V878.60M1288.71 1690.50V1657.50M256.20 83.00H289.20M256.20 235.52H289.20M256.20 388.04H289.20M256.20 540.56H289.20M256.20 693.08H289.20M256.20 159.26H272.60M256.20 311.78H272.60M256.20 464.30H272.60M256.20 616.82H272.60M256.20 769.34H272.60"/>
</g>
<path d="M305.80 55.00H587.70" stroke="#000" stroke-width="4.1" fill="none"/>
<path d="M292.80 55.00L309.80 48.70L306.80 55.00L309.80 61.30Z" fill="#000"/>
<path d="M600.70 55.00L583.70 48.70L586.70 55.00L583.70 61.30Z" fill="#000"/>
<path d="M614.30 55.00H930.00" stroke="#000" stroke-width="4.1" fill="none"/>
<path d="M601.30 55.00L618.30 48.70L615.30 55.00L618.30 61.30Z" fill="#000"/>
<path d="M943.00 55.00L926.00 48.70L929.00 55.00L926.00 61.30Z" fill="#000"/>
<path d="M297.50 790.00H416.30" stroke="#000" stroke-width="4.1" fill="none"/>
<path d="M284.50 790.00L301.50 783.70L298.50 790.00L301.50 796.30Z" fill="#000"/>
<path d="M429.30 790.00L412.30 783.70L415.30 790.00L412.30 796.30Z" fill="#000"/>
<path d="M443.20 790.00H562.60" stroke="#000" stroke-width="4.1" fill="none"/>
<path d="M430.20 790.00L447.20 783.70L444.20 790.00L447.20 796.30Z" fill="#000"/>
<path d="M575.60 790.00L558.60 783.70L561.60 790.00L558.60 796.30Z" fill="#000"/>
<path d="M590.50 790.00H991.50" stroke="#000" stroke-width="4.1" fill="none"/>
<path d="M577.50 790.00L594.50 783.70L591.50 790.00L594.50 796.30Z" fill="#000"/>
<path d="M1004.50 790.00L987.50 783.70L990.50 790.00L987.50 796.30Z" fill="#000"/>
<path d="M1020.00 790.00H1221.40" stroke="#000" stroke-width="4.1" fill="none"/>
<path d="M1007.00 790.00L1024.00 783.70L1021.00 790.00L1024.00 796.30Z" fill="#000"/>
<path d="M1234.40 790.00L1217.40 783.70L1220.40 790.00L1217.40 796.30Z" fill="#000"/>
<text transform="translate(216.80 104.00) scale(1.0000 1.0250)" font-size="70.00" text-anchor="end">0</text>
<text transform="translate(216.80 256.52) scale(1.0000 1.0250)" font-size="70.00" text-anchor="end">-20</text>
<text transform="translate(216.80 409.04) scale(1.0000 1.0250)" font-size="70.00" text-anchor="end">-40</text>
<text transform="translate(216.80 561.56) scale(1.0000 1.0250)" font-size="70.00" text-anchor="end">-60</text>
<text transform="translate(216.80 714.08) scale(1.0000 1.0250)" font-size="70.00" text-anchor="end">-80</text>
<clipPath id="tc1"><path d="M-400 -200H400V-5.83H-400ZM44.01 -6.83H50.20V20H44.01ZM64.24 -6.83H400V40H64.24ZM-400 -6.83H25.81V40H-400Z"/></clipPath>
<text transform="translate(76.70 866.60) scale(1.0000 1.0250)" font-size="70.00" text-anchor="start" x="-1.00 26.31 62.24 101.17" clip-path="url(#tc1)">-100</text>
<text transform="translate(256.20 1793.80) scale(1.0000 1.0250)" font-size="70.00" text-anchor="middle">0</text>
<clipPath id="tc2"><path d="M-400 -200H400V-5.83H-400ZM19.90 -6.83H26.09V20H19.90ZM40.13 -6.83H400V40H40.13ZM-400 -6.83H1.70V40H-400Z"/></clipPath>
<text transform="translate(369.89 1793.80) scale(1.0000 1.0250)" font-size="70.00" text-anchor="start" x="2.20 38.93 77.86" clip-path="url(#tc2)">100</text>
<text transform="translate(600.37 1793.80) scale(1.0000 1.0250)" font-size="70.00" text-anchor="middle">200</text>
<text transform="translate(772.46 1793.80) scale(1.0000 1.0250)" font-size="70.00" text-anchor="middle">300</text>
<text transform="translate(944.54 1793.80) scale(1.0000 1.0250)" font-size="70.00" text-anchor="middle">400</text>
<text transform="translate(1116.63 1793.80) scale(1.0000 1.0250)" font-size="70.00" text-anchor="middle">500</text>
<text transform="translate(1288.71 1793.80) scale(1.0000 1.0250)" font-size="70.00" text-anchor="middle">600</text>
<text transform="translate(1460.80 1793.80) scale(1.0000 1.0250)" font-size="70.00" text-anchor="middle">700</text>
<text transform="translate(767.20 1918.30) scale(1.0000 1.0250)" font-size="70.00" text-anchor="start" x="0.00 42.80 60.90 80.40">T / <tspan font-size="95.6" x="96.5" dy="15.80">°</tspan><tspan x="131.0" dy="-15.80">C</tspan></text>
<text transform="translate(55.20 426.20) rotate(-90) scale(1.0000 1.0250)" font-size="69.50" text-anchor="middle">Weight loss (wt.%)</text>
<text transform="translate(131.30 1241.00) rotate(-90) scale(1.0000 1.0250)" font-size="70.00" text-anchor="middle">DSC</text>
<text transform="translate(206.60 1437.70) rotate(-90) scale(1.0000 1.0250)" font-size="69.50" text-anchor="start">Endo | Exo</text>
<text transform="translate(198.90 1544.10) rotate(-90)" font-size="105.00" text-anchor="start">←</text>
<text transform="translate(198.90 1097.30) rotate(-90)" font-size="105.00" text-anchor="start">→</text>
<clipPath id="tc3"><path d="M-400 -200H400V-7.23H-400ZM60.13 -8.23H69.04V20H60.13ZM80.00 -8.23H400V40H80.00ZM-400 -8.23H44.35V40H-400Z"/></clipPath>
<text transform="translate(533.50 423.00) scale(0.8360 1.0650)" font-size="65.00" text-anchor="start" class="b" x="0.00 44.85" clip-path="url(#tc3)">E1</text>
<text transform="translate(439.60 600.75) scale(0.8360 1.0650)" font-size="65.00" text-anchor="start" class="b">E2</text>
<text transform="translate(1365.20 270.30) scale(0.8360 1.0650)" font-size="65.00" text-anchor="start" class="b">P</text>
<text transform="translate(278.80 1130.50) scale(0.8360 1.0650)" font-size="65.00" text-anchor="start" class="b">P</text>
<clipPath id="tc4"><path d="M-400 -200H400V-7.23H-400ZM60.13 -8.23H69.04V20H60.13ZM80.00 -8.23H400V40H80.00ZM-400 -8.23H44.35V40H-400Z"/></clipPath>
<text transform="translate(278.80 1343.75) scale(0.8360 1.0650)" font-size="65.00" text-anchor="start" class="b" x="0.00 44.85" clip-path="url(#tc4)">E1</text>
<text transform="translate(278.80 1496.25) scale(0.8360 1.0650)" font-size="65.00" text-anchor="start" class="b">E2</text>
<text transform="translate(870.20 1352.10) scale(0.8360 1.0650)" font-size="65.00" text-anchor="start" class="b">T</text>
<text transform="translate(903.70 1365.80) scale(0.8600 1.0650)" font-size="40.00" text-anchor="start" class="b">i</text>
<text transform="translate(796.25 1101.25) scale(0.8375 1.0400)" font-size="40.80" text-anchor="start">Anatase crystallization</text>
<text transform="translate(928.50 1153.00) scale(0.8430 1.0400)" font-size="40.80" text-anchor="start">starts</text>
<text transform="translate(430.00 98.40) scale(1.0450 1.0000)" font-size="33.30" text-anchor="start" class="dv" x="1.24 14.09 34.41 55.50 65.87 92.33 105.68 118.17">-25 wt.%</text>
<text transform="translate(714.90 98.40) scale(1.0450 1.0000)" font-size="33.30" text-anchor="start" class="dv" x="1.24 14.09 35.17 45.54 72.00 85.35 97.84">-3 wt.%</text>
<text transform="translate(297.20 770.00) scale(1.0450 1.0000)" font-size="33.30" text-anchor="start" class="dv" x="1.24 14.09 35.17 45.54 72.00 85.35 97.84">-7 wt.%</text>
<text transform="translate(445.00 770.00) scale(1.0450 1.0000)" font-size="33.30" text-anchor="start" class="dv" x="1.24 14.09 34.41 55.50 65.87 92.33 105.68 118.17">-75 wt.%</text>
<text transform="translate(718.30 770.00) scale(1.0450 1.0000)" font-size="33.30" text-anchor="start" class="dv" x="-0.88 25.72 46.80 57.18 83.64 96.98 109.47">+5 wt.%</text>
<text transform="translate(1052.00 770.00) scale(1.0450 1.0000)" font-size="33.30" text-anchor="start" class="dv" x="-0.88 25.72 46.80 57.18 83.64 96.98 109.47">+1 wt.%</text>
</svg></body></html>
